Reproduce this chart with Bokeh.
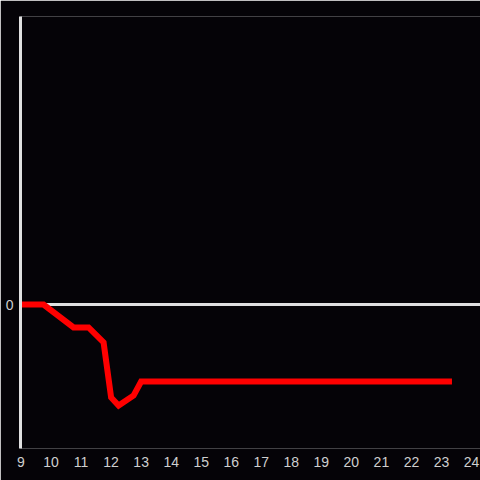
from bokeh.plotting import figure
from bokeh.models import FixedTicker, Range1d
from bokeh.embed import file_html
from bokeh.resources import INLINE

# Data (hours of day vs. value)
hours = [9.0, 9.75, 10.75, 11.25, 11.75, 12.0, 12.25, 12.75, 13.0, 23.25]
values = [0.0, 0.0, -2.3, -2.3, -3.8, -9.3, -10.1, -9.1, -7.7, -7.7]
x_ticks = list(range(9, 25))
y_ticks = [0]

BG = "#050307"
AXIS = "#e0e0e0"
LABEL = "#cfcfcf"

p = figure(width=480, height=480, output_backend="svg", toolbar_location=None,
           x_range=Range1d(8.983, 24.3), y_range=Range1d(-14.4, 28.8),
           min_border_left=20, min_border_right=0, min_border_top=16, min_border_bottom=32)
p.background_fill_color = BG
p.border_fill_color = BG
p.outline_line_color = None

p.xgrid.visible = False
p.ygrid.ticker = FixedTicker(ticks=y_ticks)
p.ygrid.grid_line_color = AXIS
p.ygrid.grid_line_width = 3

p.xaxis.ticker = FixedTicker(ticks=x_ticks)
p.xaxis.axis_line_color = None
p.xaxis.major_tick_line_color = None
p.xaxis.minor_tick_line_color = None
p.xaxis.major_label_text_color = LABEL
p.xaxis.major_label_text_font = "Liberation Sans"
p.xaxis.major_label_text_font_size = "14px"
p.xaxis.major_label_standoff = 2

p.yaxis.ticker = FixedTicker(ticks=y_ticks)
p.yaxis.axis_line_color = AXIS
p.yaxis.axis_line_width = 3
p.yaxis.major_tick_line_color = None
p.yaxis.minor_tick_line_color = None
p.yaxis.major_label_text_color = LABEL
p.yaxis.major_label_text_font = "Liberation Sans"
p.yaxis.major_label_text_font_size = "14px"
p.yaxis.major_label_standoff = 1

p.line(hours, values, line_color="#ff0000", line_width=6, line_cap="square", line_join="miter")

open("out.html", "w").write(file_html(p, INLINE))
